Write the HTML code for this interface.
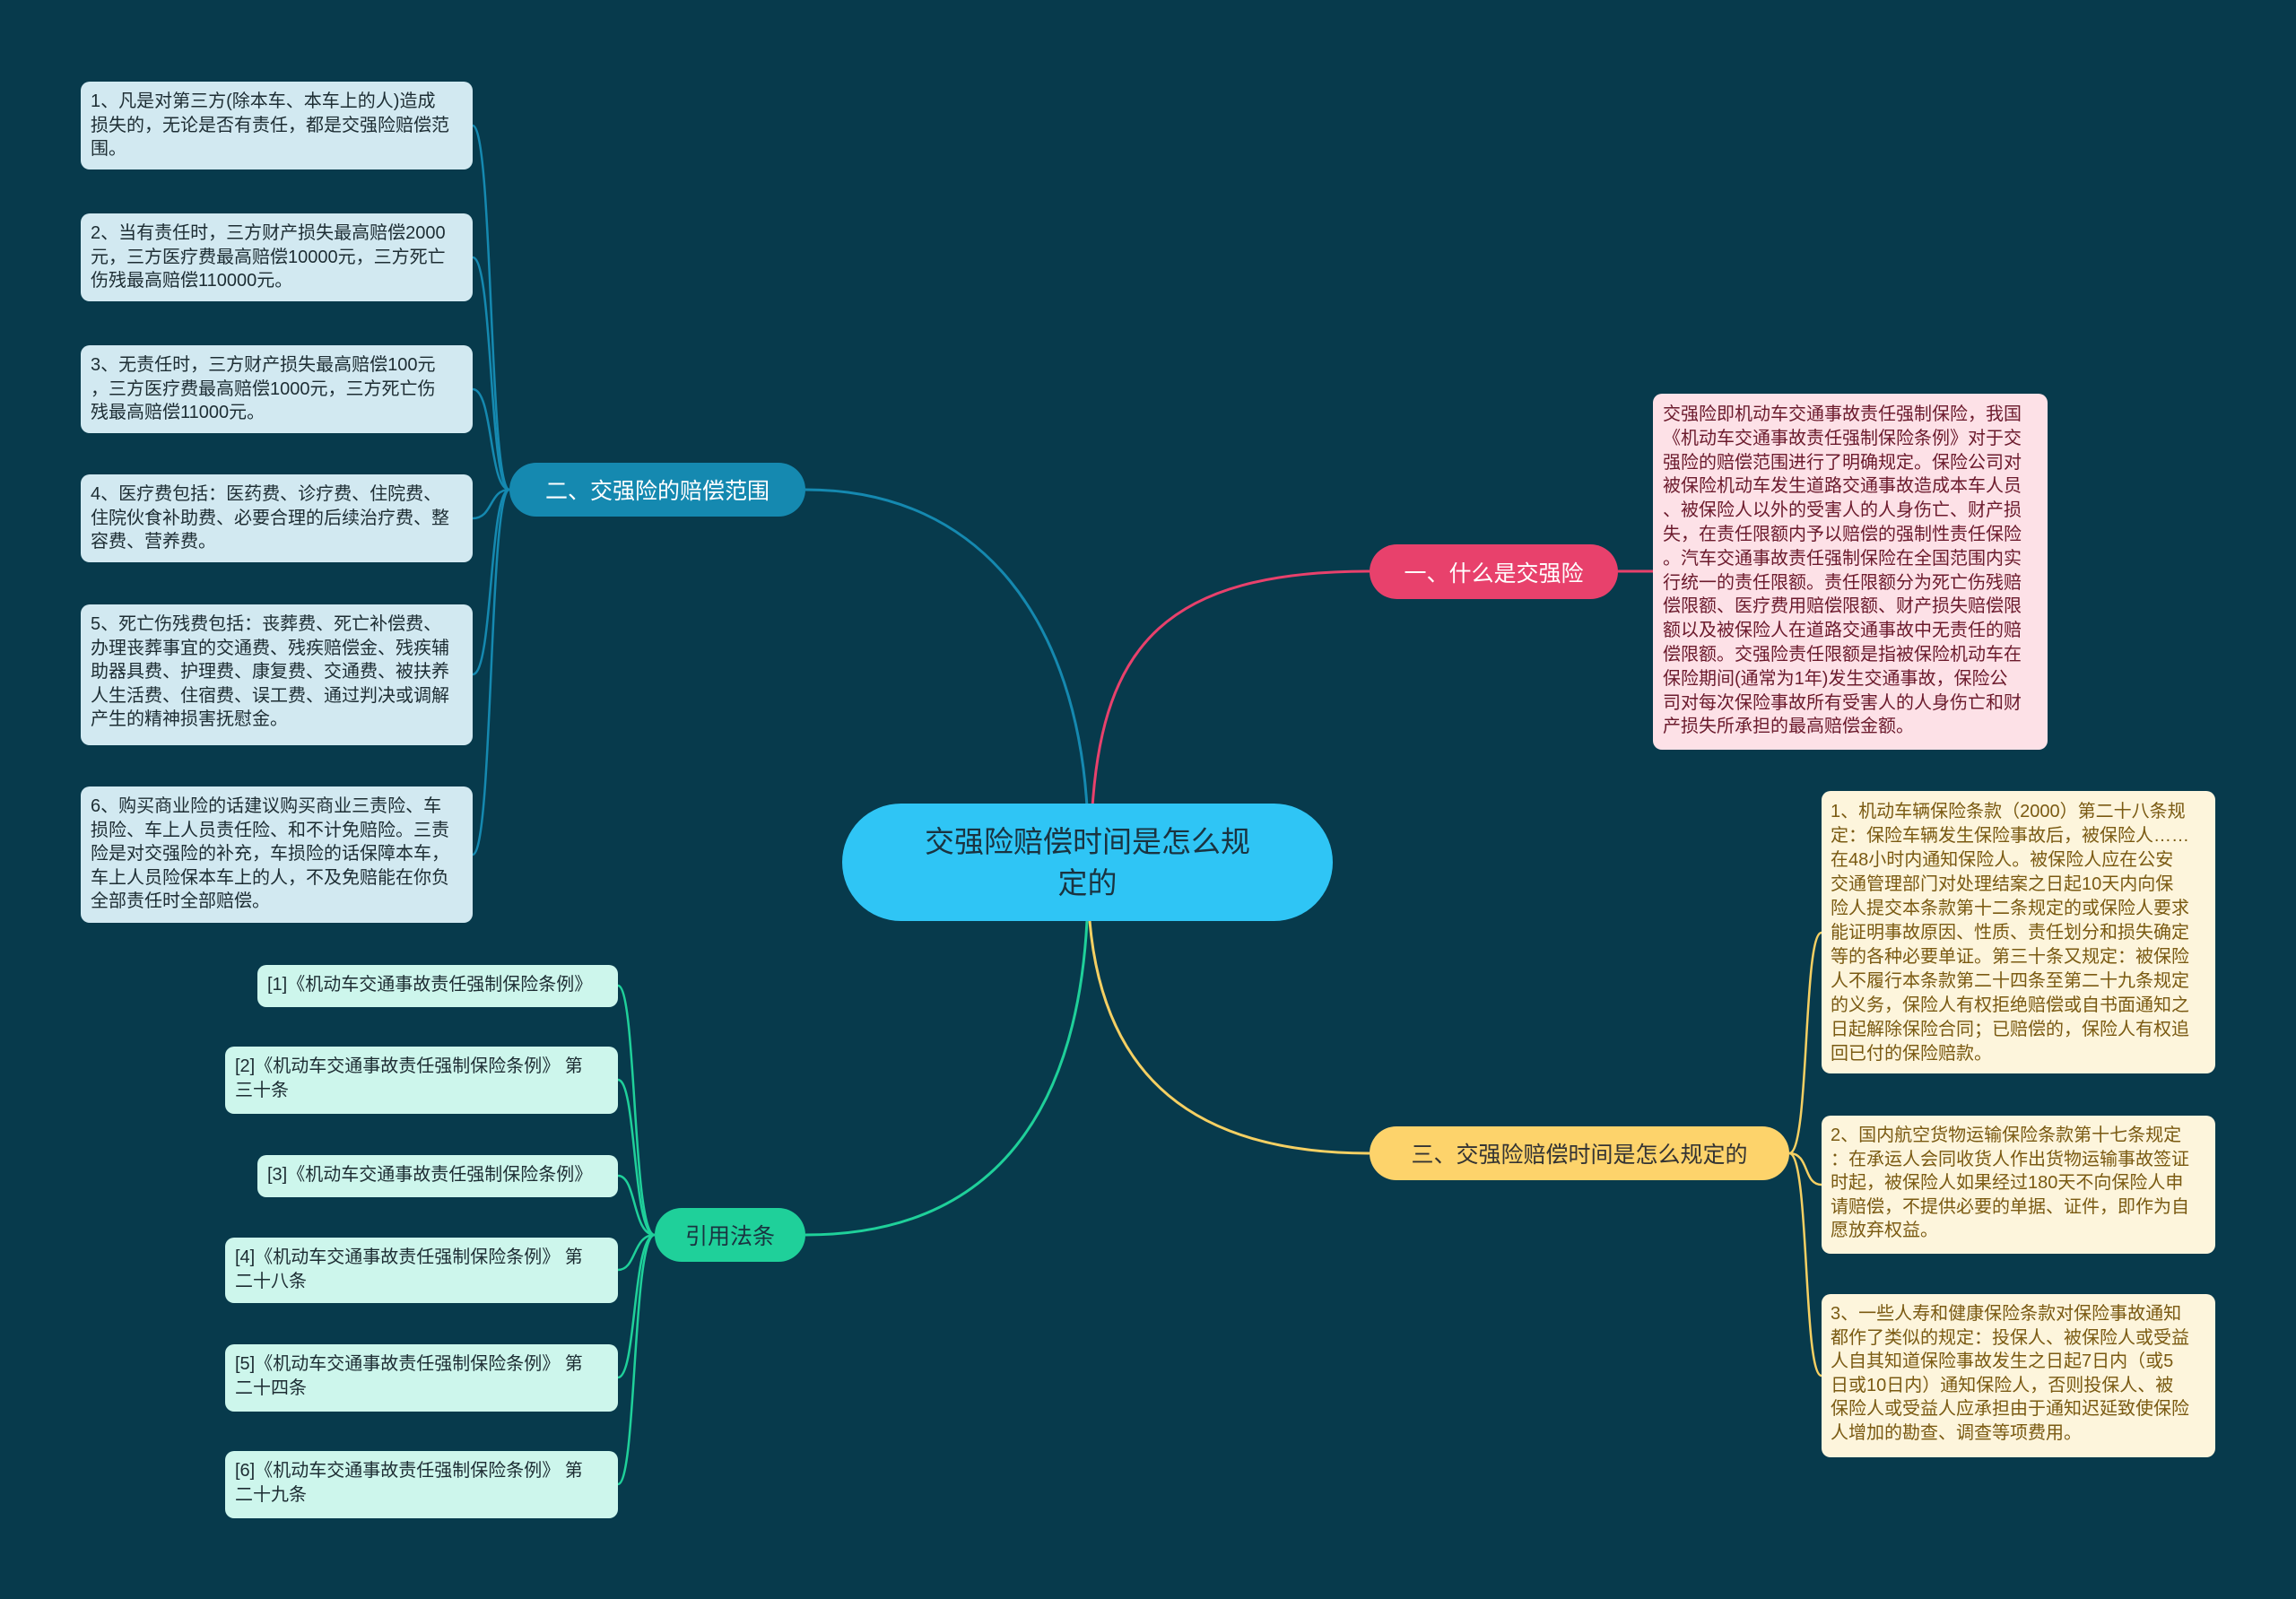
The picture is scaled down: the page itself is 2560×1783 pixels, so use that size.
<!DOCTYPE html>
<html><head><meta charset="utf-8"><style>
body{margin:0;width:2560px;height:1783px;background:#073a4c;position:relative;overflow:hidden;font-family:"Liberation Sans","Noto Sans CJK SC",sans-serif;}
.b{position:absolute;box-sizing:border-box;border-radius:10px;white-space:nowrap;font-size:20px;}
.lb{background:#d2e9f1;color:#1d2d33;line-height:26.5px;padding:9px 11px;left:90px;width:437px;}
.ct{background:#cdf6ec;color:#1d2d33;line-height:27px;padding:9px 11px;}
.yb{background:#fdf5dc;color:#7a5a12;left:2031px;width:439px;padding:9px 10px;line-height:26.5px;}
.n{position:absolute;box-sizing:border-box;border-radius:31px;display:flex;align-items:center;justify-content:center;font-size:25px;white-space:nowrap;}
svg{position:absolute;left:0;top:0;}
</style></head><body>
<svg width="2560" height="1783" fill="none" stroke-width="3">
<path d="M1212 900 C1200 700 1100 546 898 546" stroke="#1589b0"/>
<path d="M1218 900 C1230 720 1300 637 1527 637" stroke="#e8416c"/>
<path d="M1804 637 L1843 637" stroke="#e8416c"/>
<path d="M1215 1027 C1230 1200 1330 1286 1527 1286" stroke="#f5d063"/>
<path d="M1212 1027 C1200 1250 1100 1377 898 1377" stroke="#1fd09a"/>
<g stroke="#1589b0" stroke-width="2.5">
<path d="M568 546 C545 546 550 140 527 140"/>
<path d="M568 546 C545 546 550 287 527 287"/>
<path d="M568 546 C545 546 550 434 527 434"/>
<path d="M568 546 C545 546 550 578 527 578"/>
<path d="M568 546 C545 546 550 752 527 752"/>
<path d="M568 546 C545 546 550 953 527 953"/>
</g>
<g stroke="#1fd09a" stroke-width="2.5">
<path d="M730 1377 C705 1377 710 1099 689 1099"/>
<path d="M730 1377 C705 1377 710 1204 689 1204"/>
<path d="M730 1377 C705 1377 710 1311 689 1311"/>
<path d="M730 1377 C705 1377 710 1416 689 1416"/>
<path d="M730 1377 C705 1377 710 1536 689 1536"/>
<path d="M730 1377 C705 1377 710 1655 689 1655"/>
</g>
<g stroke="#f5d063" stroke-width="2.5">
<path d="M1995 1286 C2018 1286 2010 1040 2031 1040"/>
<path d="M1995 1286 C2018 1286 2010 1321 2031 1321"/>
<path d="M1995 1286 C2018 1286 2010 1534 2031 1534"/>
</g>
</svg>

<div class="n" style="left:939px;top:896px;width:547px;height:131px;border-radius:66px;background:#2fc5f5;color:#1a3340;font-size:33px;line-height:46px;text-align:center;">交强险赔偿时间是怎么规<br>定的</div>
<div class="n" style="left:568px;top:516px;width:330px;height:60px;background:#1589b0;color:#fff;">二、交强险的赔偿范围</div>
<div class="n" style="left:1527px;top:607px;width:277px;height:61px;background:#e8416c;color:#fff;">一、什么是交强险</div>
<div class="n" style="left:1527px;top:1256px;width:468px;height:60px;background:#fdd36b;color:#333;">三、交强险赔偿时间是怎么规定的</div>
<div class="n" style="left:730px;top:1347px;width:168px;height:60px;background:#1fd09a;color:#1a3340;">引用法条</div>

<div class="b lb" style="top:91px;height:98px;">1、凡是对第三方(除本车、本车上的人)造成<br>损失的，无论是否有责任，都是交强险赔偿范<br>围。</div>
<div class="b lb" style="top:238px;height:98px;">2、当有责任时，三方财产损失最高赔偿2000<br>元，三方医疗费最高赔偿10000元，三方死亡<br>伤残最高赔偿110000元。</div>
<div class="b lb" style="top:385px;height:98px;">3、无责任时，三方财产损失最高赔偿100元<br>，三方医疗费最高赔偿1000元，三方死亡伤<br>残最高赔偿11000元。</div>
<div class="b lb" style="top:529px;height:98px;">4、医疗费包括：医药费、诊疗费、住院费、<br>住院伙食补助费、必要合理的后续治疗费、整<br>容费、营养费。</div>
<div class="b lb" style="top:674px;height:157px;">5、死亡伤残费包括：丧葬费、死亡补偿费、<br>办理丧葬事宜的交通费、残疾赔偿金、残疾辅<br>助器具费、护理费、康复费、交通费、被扶养<br>人生活费、住宿费、误工费、通过判决或调解<br>产生的精神损害抚慰金。</div>
<div class="b lb" style="top:877px;height:152px;">6、购买商业险的话建议购买商业三责险、车<br>损险、车上人员责任险、和不计免赔险。三责<br>险是对交强险的补充，车损险的话保障本车，<br>车上人员险保本车上的人，不及免赔能在你负<br>全部责任时全部赔偿。</div>

<div class="b" style="left:1843px;top:439px;width:440px;height:397px;background:#fde1e7;color:#6b1a2c;line-height:26.8px;padding:10px 11px;">交强险即机动车交通事故责任强制保险，我国<br>《机动车交通事故责任强制保险条例》对于交<br>强险的赔偿范围进行了明确规定。保险公司对<br>被保险机动车发生道路交通事故造成本车人员<br>、被保险人以外的受害人的人身伤亡、财产损<br>失，在责任限额内予以赔偿的强制性责任保险<br>。汽车交通事故责任强制保险在全国范围内实<br>行统一的责任限额。责任限额分为死亡伤残赔<br>偿限额、医疗费用赔偿限额、财产损失赔偿限<br>额以及被保险人在道路交通事故中无责任的赔<br>偿限额。交强险责任限额是指被保险机动车在<br>保险期间(通常为1年)发生交通事故，保险公<br>司对每次保险事故所有受害人的人身伤亡和财<br>产损失所承担的最高赔偿金额。</div>

<div class="b yb" style="top:882px;height:315px;line-height:27px;padding-top:10px;">1、机动车辆保险条款（2000）第二十八条规<br>定：保险车辆发生保险事故后，被保险人……<br>在48小时内通知保险人。被保险人应在公安<br>交通管理部门对处理结案之日起10天内向保<br>险人提交本条款第十二条规定的或保险人要求<br>能证明事故原因、性质、责任划分和损失确定<br>等的各种必要单证。第三十条又规定：被保险<br>人不履行本条款第二十四条至第二十九条规定<br>的义务，保险人有权拒绝赔偿或自书面通知之<br>日起解除保险合同；已赔偿的，保险人有权追<br>回已付的保险赔款。</div>
<div class="b yb" style="top:1244px;height:154px;">2、国内航空货物运输保险条款第十七条规定<br>：在承运人会同收货人作出货物运输事故签证<br>时起，被保险人如果经过180天不向保险人申<br>请赔偿，不提供必要的单据、证件，即作为自<br>愿放弃权益。</div>
<div class="b yb" style="top:1443px;height:182px;">3、一些人寿和健康保险条款对保险事故通知<br>都作了类似的规定：投保人、被保险人或受益<br>人自其知道保险事故发生之日起7日内（或5<br>日或10日内）通知保险人，否则投保人、被<br>保险人或受益人应承担由于通知迟延致使保险<br>人增加的勘查、调查等项费用。</div>

<div class="b ct" style="left:287px;top:1076px;width:402px;height:47px;">[1]《机动车交通事故责任强制保险条例》</div>
<div class="b ct" style="left:251px;top:1167px;width:438px;height:75px;">[2]《机动车交通事故责任强制保险条例》 第<br>三十条</div>
<div class="b ct" style="left:287px;top:1288px;width:402px;height:47px;">[3]《机动车交通事故责任强制保险条例》</div>
<div class="b ct" style="left:251px;top:1380px;width:438px;height:73px;">[4]《机动车交通事故责任强制保险条例》 第<br>二十八条</div>
<div class="b ct" style="left:251px;top:1499px;width:438px;height:75px;">[5]《机动车交通事故责任强制保险条例》 第<br>二十四条</div>
<div class="b ct" style="left:251px;top:1618px;width:438px;height:75px;">[6]《机动车交通事故责任强制保险条例》 第<br>二十九条</div>
</body></html>
